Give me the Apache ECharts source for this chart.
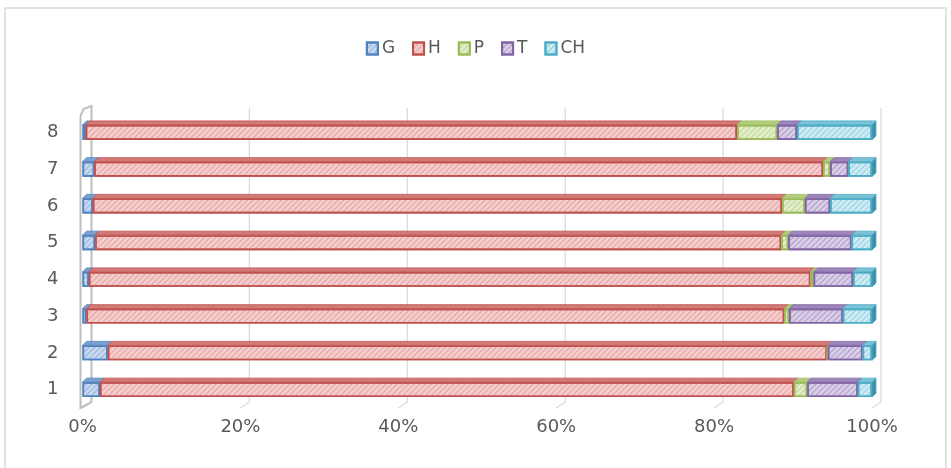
<!DOCTYPE html>
<html>
<head>
<meta charset="utf-8">
<script src="https://cdn.jsdelivr.net/npm/echarts@6/dist/echarts.min.js"></script>
<style>
  html, body { margin: 0; padding: 0; background: #fff; }
  #chart { width: 951px; height: 468px; }
</style>
</head>
<body>
<div id="chart"></div>
<script>
// Share of each component per sample (percent of the row total)
const categories = ['1', '2', '3', '4', '5', '6', '7', '8'];
const seriesNames = ['G', 'H', 'P', 'T', 'CH'];
const gValues  = [2.2, 3.2, 0.5, 0.8, 1.6, 1.3, 1.5, 0.4];
const hValues  = [87.9, 91.1, 88.4, 91.4, 86.9, 87.3, 92.3, 82.5];
const pValues  = [1.7, 0.1, 0.6, 0.4, 0.9, 2.9, 0.9, 5.1];
const tValues  = [6.4, 4.4, 6.8, 5.0, 8.0, 3.2, 2.3, 2.5];
const chValues = [1.8, 1.2, 3.7, 2.4, 2.6, 5.3, 3.0, 9.5];
const tickValues = [0, 20, 40, 60, 80, 100];

const valueLists = [gValues, hValues, pValues, tValues, chValues];

// Office-style palette: edge, face fill, hatch stroke, top face, end cap
const edgeColors  = ['#4f81bd', '#c0504d', '#9bbb59', '#8064a2', '#4bacc6'];
const fillColors  = ['#c9d9ef', '#f4cdcc', '#e2edcb', '#d8cee6', '#cfecf4'];
const hatchColors = ['#8fb0dc', '#e3a2a0', '#bfd690', '#ae9bcb', '#93d0e0'];
const topColors   = ['#7b9fd0', '#d27a78', '#b3cc80', '#9c86bb', '#7cc2d6'];
const sideColors  = ['#41699c', '#9e4240', '#7f9a49', '#6a5386', '#3e8ea4'];

const FONT = 'DejaVu Sans';
const BAR_H = 15;     // thickness of each bar's front face
const BAR_D = 4;      // depth of the bar tops
const WALL_DX = 9;    // back wall offset
const WALL_DY = 6;

// Segment extents for the 3D top/side faces
const faceData = [];
categories.forEach((c, ci) => {
  let acc = 0;
  valueLists.forEach((list, si) => {
    const v = list[ci];
    faceData.push([acc, acc + v, ci, si]);
    acc += v;
  });
});

const chart = echarts.init(document.getElementById('chart'), null, { renderer: 'canvas' });

const barSeries = seriesNames.map((name, si) => ({
  name: name,
  type: 'bar',
  stack: 'total',
  barWidth: BAR_H,
  z: 3,
  data: valueLists[si],
  itemStyle: {
    color: fillColors[si],
    borderColor: edgeColors[si],
    borderWidth: 1.6,
    decal: {
      symbol: 'rect',
      symbolSize: 1,
      color: hatchColors[si],
      dashArrayX: [1, 0],
      dashArrayY: [1, 3],
      rotation: -Math.PI / 4
    }
  },
  emphasis: { disabled: true },
  animation: false
}));

// Back wall grid lines with slanted floor edges
const wallSeries = {
  type: 'custom',
  z: 1,
  silent: true,
  animation: false,
  data: tickValues.map(v => [v, 0]),
  encode: { x: 0, y: 1 },
  renderItem: function (params, api) {
    const v = api.value(0);
    const x = api.coord([v, 0])[0];
    const cs = params.coordSys;
    const yTop = cs.y;
    const yBot = cs.y + cs.height;
    const children = [{
      type: 'polyline',
      shape: { points: [[x, yBot], [x + WALL_DX, yBot - WALL_DY], [x + WALL_DX, yTop - WALL_DY]] },
      style: { stroke: '#d9d9d9', lineWidth: 1.2, fill: null }
    }];
    if (v === tickValues[0]) {
      children.push({
        type: 'polyline',
        shape: { points: [[x + WALL_DX, yBot - WALL_DY], [x - 2, yBot], [x - 2, yTop + 2], [x + 1, yTop - WALL_DY + 1], [x + WALL_DX, yTop - WALL_DY - 2], [x + WALL_DX, yBot - WALL_DY]] },
        style: { stroke: '#bfbfbf', lineWidth: 2, fill: null }
      });
    }
    return { type: 'group', children: children };
  }
};

// Top faces of every segment and the end cap of each bar
const faceSeries = {
  type: 'custom',
  z: 4,
  silent: true,
  animation: false,
  data: faceData,
  encode: { x: [0, 1], y: 2 },
  renderItem: function (params, api) {
    const start = api.value(0);
    const end = api.value(1);
    const ci = api.value(2);
    const si = api.value(3);
    const a = api.coord([start, ci]);
    const b = api.coord([end, ci]);
    const top = a[1] - BAR_H / 2;
    const children = [];
    if (end - start > 0) {
      children.push({
        type: 'polygon',
        shape: { points: [[a[0], top], [b[0], top], [b[0] + BAR_D, top - BAR_D], [a[0] + BAR_D, top - BAR_D]] },
        style: { fill: topColors[si], stroke: edgeColors[si], lineWidth: 0.8 }
      });
    }
    if (si === seriesNames.length - 1) {
      children.push({
        type: 'polygon',
        shape: { points: [[b[0], top], [b[0] + BAR_D, top - BAR_D], [b[0] + BAR_D, top + BAR_H - BAR_D], [b[0], top + BAR_H]] },
        style: { fill: sideColors[si], stroke: edgeColors[si], lineWidth: 0.8 }
      });
    }
    return { type: 'group', children: children };
  }
};

chart.setOption({
  animation: false,
  backgroundColor: '#ffffff',
  aria: { enabled: false, decal: { show: false } },
  graphic: [{
    type: 'rect',
    shape: { x: 5, y: 8, width: 941, height: 470 },
    style: { fill: null, stroke: '#d9d9d9', lineWidth: 1.5 },
    silent: true
  }],
  legend: {
    data: seriesNames,
    top: 35,
    left: 'center',
    icon: 'rect',
    itemWidth: 11,
    itemHeight: 12,
    itemGap: 17,
    textStyle: { fontFamily: FONT, fontSize: 17, color: '#595959', padding: [0, 0, 0, -1] },
    selectedMode: false
  },
  grid: { left: 82.5, right: 79, top: 114, bottom: 60, containLabel: false },
  xAxis: {
    type: 'value',
    min: 0,
    max: 100,
    interval: 20,
    axisLine: { show: false },
    axisTick: { show: false },
    splitLine: { show: false },
    axisLabel: {
      formatter: '{value}%',
      fontFamily: FONT,
      fontSize: 18,
      color: '#595959',
      margin: 10
    }
  },
  yAxis: {
    type: 'category',
    data: categories,
    axisLine: { show: false },
    axisTick: { show: false },
    splitLine: { show: false },
    axisLabel: { fontFamily: FONT, fontSize: 18, color: '#595959', margin: 24 }
  },
  series: [wallSeries].concat(barSeries, [faceSeries])
});
</script>
</body>
</html>
